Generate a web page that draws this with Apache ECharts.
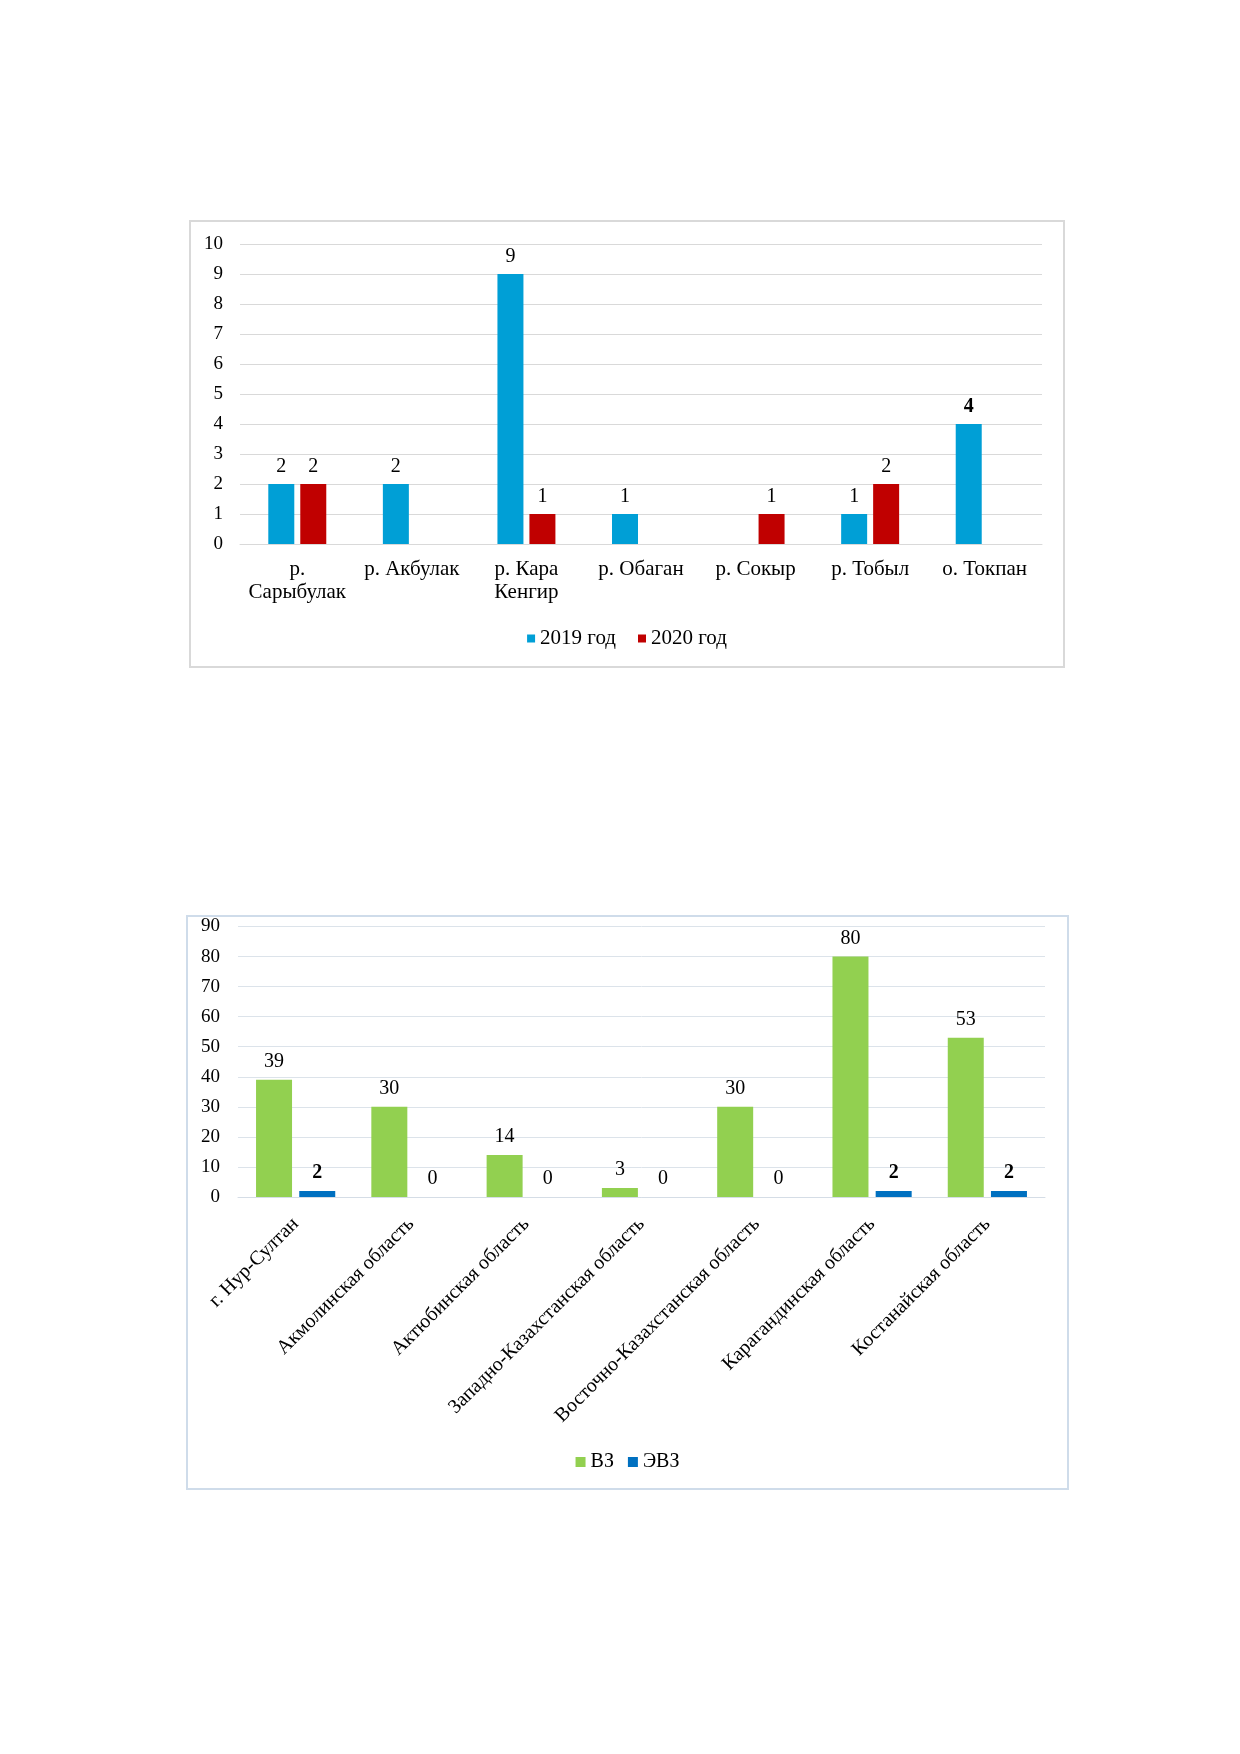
<!DOCTYPE html>
<html>
<head>
<meta charset="utf-8">
<script src="https://cdn.jsdelivr.net/npm/echarts@6/dist/echarts.min.js"></script>
<style>
  body { margin: 0; background: #fff; }
  #page { position: relative; width: 1240px; height: 1754px; }
  .box { position: absolute; box-sizing: border-box; }
  #c1 { left: 189px; top: 220px; width: 876px; height: 448px; border: 2px solid #d9d9d9; }
  #c2 { left: 186px; top: 915px; width: 883px; height: 575px; border: 2px solid #cfdcea; }
</style>
</head>
<body>
<div id="page">
  <div id="c1" class="box"></div>
  <div id="c2" class="box"></div>
</div>
<script>
// диаграмма 1 — водные объекты
var rivers = ['р.\nСарыбулак', 'р. Акбулак', 'р. Кара\nКенгир', 'р. Обаган', 'р. Сокыр', 'р. Тобыл', 'о. Токпан'];
var y2019 = [2, 2, 9, 1, null, 1, 4];
var y2020 = [2, null, 1, null, 1, 2, null];

// диаграмма 2 — по регионам
var regions = ['г. Нур-Султан', 'Акмолинская область', 'Актюбинская область', 'Западно-Казахстанская область',
  'Восточно-Казахстанская область', 'Карагандинская область', 'Костанайская область'];
var vz = [39, 30, 14, 3, 30, 80, 53];
var evz = [2, 0, 0, 0, 0, 2, 2];

var FONT = '"Liberation Serif", "Times New Roman", serif';

var chart1 = echarts.init(document.getElementById('c1'));
chart1.setOption({
  animation: false,
  textStyle: { fontFamily: FONT },
  grid: { left: 49, right: 21, top: 22, bottom: 122 },
  legend: {
    top: 401, left: 'center', icon: 'rect',
    itemWidth: 8, itemHeight: 8, itemGap: 22,
    textStyle: { fontFamily: FONT, fontSize: 21, color: '#000' },
    data: ['2019 год', '2020 год']
  },
  xAxis: {
    type: 'category',
    data: rivers,
    axisTick: { show: false },
    axisLine: { lineStyle: { color: '#d9d9d9', width: 1 } },
    axisLabel: { fontFamily: FONT, fontSize: 21, color: '#000', lineHeight: 23, margin: 14, interval: 0 }
  },
  yAxis: {
    type: 'value', min: 0, max: 10, interval: 1,
    axisLine: { show: false }, axisTick: { show: false },
    splitLine: { lineStyle: { color: '#d9d9d9' } },
    axisLabel: { fontFamily: FONT, fontSize: 19, color: '#000', margin: 17 }
  },
  series: [
    {
      name: '2019 год', type: 'bar', data: y2019.map(function (v, i) {
        return i === 6 ? { value: v, label: { fontWeight: 'bold' } } : v;
      }),
      barWidth: 26, barGap: '23%',
      itemStyle: { color: '#009fd6' },
      label: { show: true, position: 'top', distance: 7, fontFamily: FONT, fontSize: 20, color: '#000' }
    },
    {
      name: '2020 год', type: 'bar', data: y2020,
      barWidth: 26,
      itemStyle: { color: '#c00000' },
      label: { show: true, position: 'top', distance: 7, fontFamily: FONT, fontSize: 20, color: '#000' }
    }
  ]
});

var chart2 = echarts.init(document.getElementById('c2'));
chart2.setOption({
  animation: false,
  textStyle: { fontFamily: FONT },
  grid: { left: 50, right: 22, top: 9, bottom: 291 },
  legend: {
    top: 530, left: 'center', icon: 'rect',
    itemWidth: 10, itemHeight: 10, itemGap: 14,
    textStyle: { fontFamily: FONT, fontSize: 20, color: '#000' },
    data: ['ВЗ', 'ЭВЗ']
  },
  xAxis: {
    type: 'category',
    data: regions,
    axisTick: { show: false },
    axisLine: { lineStyle: { color: '#d5dde6', width: 1 } },
    axisLabel: { fontFamily: FONT, fontSize: 20, color: '#000', rotate: 45, margin: 24, interval: 0 }
  },
  yAxis: {
    type: 'value', min: 0, max: 90, interval: 10,
    axisLine: { show: false }, axisTick: { show: false },
    splitLine: { lineStyle: { color: '#dce3ea' } },
    axisLabel: { fontFamily: FONT, fontSize: 19, color: '#000', margin: 18 }
  },
  series: [
    {
      name: 'ВЗ', type: 'bar', data: vz,
      barWidth: 36, barGap: '20%',
      itemStyle: { color: '#92d050' },
      label: { show: true, position: 'top', distance: 8, fontFamily: FONT, fontSize: 20, color: '#000' }
    },
    {
      name: 'ЭВЗ', type: 'bar', data: evz.map(function (v) {
        return v > 0 ? { value: v, label: { fontWeight: 'bold' } } : v;
      }),
      barWidth: 36,
      itemStyle: { color: '#0070c0' },
      label: { show: true, position: 'top', distance: 8, fontFamily: FONT, fontSize: 20, color: '#000' }
    }
  ]
});
</script>
</body>
</html>
